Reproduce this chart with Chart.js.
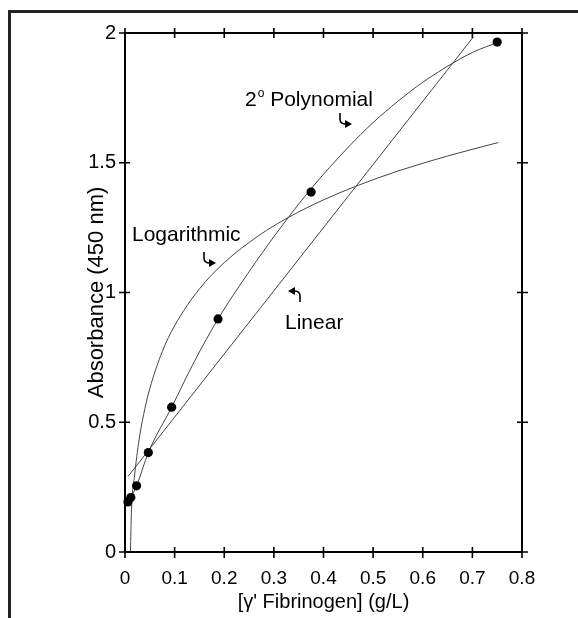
<!DOCTYPE html>
<html>
<head>
<meta charset="utf-8">
<script src="https://cdn.jsdelivr.net/npm/chart.js@4.4.0/dist/chart.umd.min.js"></script>
<style>
    html, body { margin: 0; padding: 0; background: #fff; overflow: hidden; }
    #wrap { position: relative; width: 578px; height: 618px; }
    #frame { position: absolute; left: 8px; top: 10px; width: 600px; height: 640px; border: 3px solid #222; }
    canvas { position: absolute; left: 0; top: 0; }
</style>
</head>
<body>
<div id="wrap">
    <div id="frame"></div>
    <canvas id="chart" width="578" height="618"></canvas>
</div>
<script>
    var FONT = '"Liberation Sans", Arial, Helvetica, sans-serif';

    // measured points (two-fold dilution series)
    var pointX = [0.0059, 0.0117, 0.0234, 0.047, 0.094, 0.1875, 0.375, 0.75];
    var pointY = [0.193, 0.21, 0.255, 0.383, 0.558, 0.898, 1.387, 1.965];

    // fitted curves
    var polyX = [0.0059, 0.0117, 0.0234, 0.047, 0.094, 0.14, 0.1875, 0.25, 0.3, 0.375, 0.45, 0.5, 0.55, 0.6, 0.665, 0.7, 0.7525];
    var polyY = [0.193, 0.21, 0.255, 0.383, 0.558, 0.735, 0.898, 1.08, 1.215, 1.40, 1.56, 1.655, 1.737, 1.81, 1.889, 1.925, 1.965];

    var logX = [0.011, 0.0129, 0.0196, 0.03, 0.04, 0.05, 0.075, 0.1, 0.15, 0.2, 0.27, 0.33, 0.4, 0.47, 0.55, 0.65, 0.7525];
    var logY = [0.0, 0.15, 0.30, 0.452, 0.552, 0.63, 0.772, 0.872, 1.014, 1.115, 1.22, 1.29, 1.357, 1.413, 1.468, 1.526, 1.578];

    var linX = [0.006, 0.702];
    var linY = [0.291, 1.985];

    var xTicks = [0, 0.1, 0.2, 0.3, 0.4, 0.5, 0.6, 0.7, 0.8];
    var xTickLabels = ['0', '0.1', '0.2', '0.3', '0.4', '0.5', '0.6', '0.7', '0.8'];
    var yTicks = [0, 0.5, 1, 1.5, 2];
    var yTickLabels = ['0', '0.5', '1', '1.5', '2'];

    function toXY(xs, ys) {
        var out = [];
        for (var i = 0; i < xs.length; i++) out.push({x: xs[i], y: ys[i]});
        return out;
    }

    // box round the plot with ticks crossing each side
    var frameTicks = {
        id: 'frameTicks',
        afterDraw: function (chart) {
            var ctx = chart.ctx;
            var a = chart.chartArea;
            var xs = chart.scales.x;
            var ys = chart.scales.y;
            ctx.save();
            ctx.strokeStyle = '#000';
            ctx.lineWidth = 2;
            ctx.strokeRect(a.left, a.top, a.right - a.left, a.bottom - a.top);
            ctx.lineWidth = 1.6;
            ctx.beginPath();
            xTicks.forEach(function (v) {
                var px = xs.getPixelForValue(v);
                ctx.moveTo(px, a.bottom - 5); ctx.lineTo(px, a.bottom + 6);
                ctx.moveTo(px, a.top - 5); ctx.lineTo(px, a.top + 5);
            });
            yTicks.forEach(function (v) {
                var py = ys.getPixelForValue(v);
                ctx.moveTo(a.left - 6, py); ctx.lineTo(a.left + 5, py);
                ctx.moveTo(a.right - 5, py); ctx.lineTo(a.right + 6, py);
            });
            ctx.stroke();
            ctx.restore();
        }
    };

    function hookRight(ctx, x, y) {
        ctx.beginPath();
        ctx.moveTo(x, y);
        ctx.lineTo(x, y + 6);
        ctx.quadraticCurveTo(x, y + 11, x + 6, y + 11);
        ctx.stroke();
        ctx.beginPath();
        ctx.moveTo(x + 12, y + 11);
        ctx.lineTo(x + 5, y + 7);
        ctx.lineTo(x + 5, y + 15);
        ctx.closePath();
        ctx.fill();
    }

    function hookLeft(ctx, x, y) {
        ctx.beginPath();
        ctx.moveTo(x, y);
        ctx.lineTo(x, y - 6);
        ctx.quadraticCurveTo(x, y - 11, x - 6, y - 11);
        ctx.stroke();
        ctx.beginPath();
        ctx.moveTo(x - 12, y - 11);
        ctx.lineTo(x - 5, y - 15);
        ctx.lineTo(x - 5, y - 7);
        ctx.closePath();
        ctx.fill();
    }

    var curveLabels = {
        id: 'curveLabels',
        afterDraw: function (chart) {
            var ctx = chart.ctx;
            ctx.save();
            ctx.fillStyle = '#000';
            ctx.strokeStyle = '#000';
            ctx.lineWidth = 1.6;
            ctx.textBaseline = 'alphabetic';
            ctx.textAlign = 'left';

            ctx.font = '21px ' + FONT;
            ctx.fillText('2', 245, 106);
            var w2 = ctx.measureText('2').width;
            ctx.font = '12px ' + FONT;
            ctx.fillText('o', 245 + w2 + 1, 97);
            var wo = ctx.measureText('o').width;
            ctx.font = '21px ' + FONT;
            ctx.fillText(' Polynomial', 245 + w2 + 1 + wo, 106);
            hookRight(ctx, 340, 113);

            ctx.fillText('Logarithmic', 132, 241);
            hookRight(ctx, 204, 252);

            ctx.fillText('Linear', 285, 329);
            hookLeft(ctx, 300, 302);
            ctx.restore();
        }
    };

    var chart = new Chart(document.getElementById('chart'), {
        type: 'scatter',
        data: {
            datasets: [{
                label: 'Data',
                data: toXY(pointX, pointY),
                pointRadius: 4.6,
                pointBackgroundColor: '#000',
                pointBorderWidth: 0,
                showLine: false,
                clip: false
            }, {
                label: 'Linear',
                data: toXY(linX, linY),
                showLine: true,
                pointRadius: 0,
                borderColor: '#444',
                borderWidth: 1
            }, {
                label: 'Logarithmic',
                data: toXY(logX, logY),
                showLine: true,
                pointRadius: 0,
                borderColor: '#444',
                borderWidth: 1,
                cubicInterpolationMode: 'monotone'
            }, {
                label: '2o Polynomial',
                data: toXY(polyX, polyY),
                showLine: true,
                pointRadius: 0,
                borderColor: '#444',
                borderWidth: 1,
                cubicInterpolationMode: 'monotone'
            }]
        },
        options: {
            responsive: false,
            animation: false,
            layout: {
                padding: {top: 33, right: 56, left: 0, bottom: 0}
            },
            plugins: {
                legend: {display: false},
                tooltip: {enabled: false}
            },
            scales: {
                x: {
                    type: 'linear',
                    min: 0,
                    max: 0.8,
                    afterBuildTicks: function (s) {
                        s.ticks = xTicks.map(function (v) { return {value: v}; });
                    },
                    afterFit: function (s) { s.height = 66; },
                    grid: {display: false, drawTicks: false},
                    border: {display: false},
                    ticks: {
                        color: '#000',
                        font: {size: 19, family: FONT},
                        padding: 15,
                        maxRotation: 0,
                        autoSkip: false,
                        callback: function (v) { return xTickLabels[xTicks.indexOf(v)]; }
                    },
                    title: {
                        display: true,
                        text: "[\u03b3' Fibrinogen] (g/L)",
                        color: '#000',
                        font: {size: 20, family: FONT},
                        padding: {top: 0, bottom: 4}
                    }
                },
                y: {
                    type: 'linear',
                    min: 0,
                    max: 2,
                    afterBuildTicks: function (s) {
                        s.ticks = yTicks.map(function (v) { return {value: v}; });
                    },
                    afterFit: function (s) { s.width = 125; },
                    grid: {display: false, drawTicks: false},
                    border: {display: false},
                    ticks: {
                        color: '#000',
                        font: {size: 20, family: FONT},
                        padding: 9,
                        autoSkip: false,
                        callback: function (v) { return yTickLabels[yTicks.indexOf(v)]; }
                    },
                    title: {
                        display: true,
                        text: 'Absorbance (450 nm)',
                        color: '#000',
                        font: {size: 22, family: FONT},
                        padding: {top: 84, bottom: 0}
                    }
                }
            }
        },
        plugins: [frameTicks, curveLabels]
    });
</script>
</body>
</html>
